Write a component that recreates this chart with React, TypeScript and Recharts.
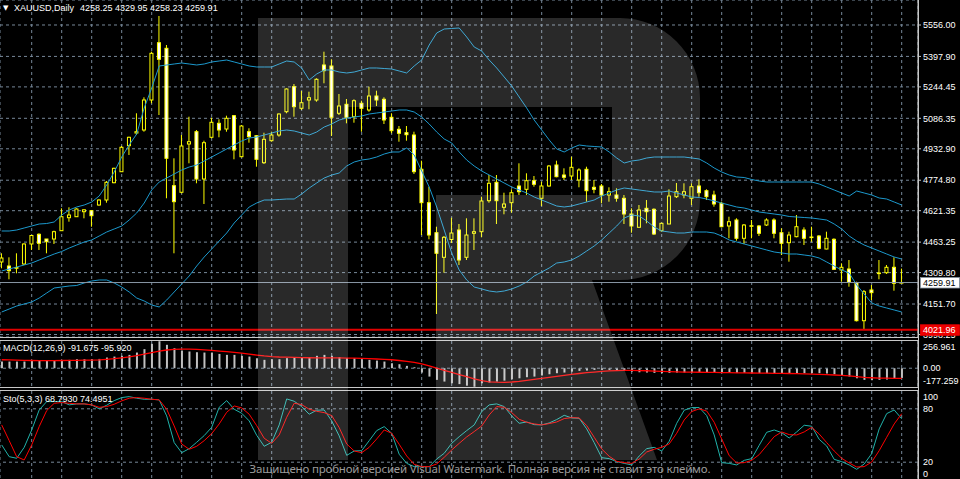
import React from 'react';
import { ComposedChart, Bar, Line, XAxis, YAxis, CartesianGrid, ReferenceLine } from 'recharts';

// ---------------- data ----------------
const opens = [4363.2,4343.0,4331.4,4353.1,4453.8,4502.6,4478.9,4478.9,4520.7,4586.1,4591.1,4616.3,4621.3,4650.0,4675.2,4762.3,4817.6,4948.5,5012.4,5027.5,5178.5,5466.9,5438.7,4747.2,4714.0,4957.0,5019.0,4780.9,4990.8,5061.2,5032.5,5099.5,4893.1,5019.0,4998.8,4862.9,4973.7,5002.3,5119.6,5245.4,5136.7,5178.5,5178.5,5354.7,5349.6,5111.6,5156.9,5094.5,5161.9,5128.2,5198.6,5182.0,5091.4,5031.0,5013.9,5002.3,4829.7,4661.6,4510.6,4386.8,4476.4,4524.2,4386.8,4507.6,4515.7,4671.7,4764.3,4638.5,4661.6,4745.7,4729.0,4772.3,4683.8,4745.7,4851.4,4801.0,4796.0,4775.9,4829.7,4739.1,4745.7,4700.4,4700.4,4683.8,4604.8,4537.8,4633.4,4628.4,4520.7,4554.4,4691.8,4700.4,4683.8,4745.7,4722.0,4700.4,4658.6,4544.4,4574.5,4482.4,4542.8,4544.4,4549.4,4574.5,4510.6,4460.3,4490.5,4524.2,4486.5,4494.0,4428.6,4477.4,4322.9,4327.9,4259.0,4067.7,4222.3,4306.3,4309.3,4336.5,4258.25];
const highs = [4406.9,4386.8,4406.9,4457.3,4499.0,4507.6,4478.9,4520.7,4633.4,4638.5,4633.4,4628.4,4624.9,4678.7,4770.8,4837.7,4947.0,4993.8,5111.6,5192.1,5421.6,5601.3,5455.3,4885.1,5002.3,5094.5,5027.5,4973.7,5089.4,5081.4,5099.5,5103.0,5052.7,5036.1,5002.3,5013.9,5019.0,5111.6,5237.4,5259.0,5223.8,5220.3,5287.7,5421.6,5383.4,5208.7,5183.5,5182.0,5175.0,5245.4,5225.3,5192.1,5111.6,5047.6,5047.6,5019.0,4873.0,4742.1,4540.8,4494.0,4586.1,4554.4,4583.1,4583.1,4691.8,4801.0,4801.0,4711.9,4729.0,4859.9,4809.6,4796.0,4767.3,4851.4,4873.0,4834.7,4893.1,4834.7,4842.8,4775.9,4755.7,4739.1,4734.1,4700.4,4633.4,4650.0,4675.2,4633.4,4560.9,4729.0,4760.8,4759.3,4759.3,4779.4,4729.0,4722.0,4666.7,4591.1,4583.1,4554.4,4574.5,4549.4,4583.1,4583.1,4532.8,4515.7,4599.7,4537.8,4540.8,4499.0,4515.7,4482.4,4356.6,4373.2,4264.0,4222.3,4247.4,4373.2,4348.1,4386.8,4329.95];
const lows = [4331.4,4276.1,4306.3,4348.1,4423.6,4423.6,4406.9,4453.8,4520.7,4566.0,4591.1,4583.1,4540.8,4646.5,4661.6,4759.3,4817.6,4901.7,5002.3,5019.0,5161.9,5103.0,4683.8,4406.9,4708.9,4859.9,4759.3,4655.1,4985.7,4990.8,5019.0,4880.1,4890.1,4963.6,4842.8,4856.4,4968.6,4993.8,5111.6,5094.5,5128.2,5131.7,5169.9,5262.5,4997.3,5103.0,5061.2,5064.2,5019.0,5119.6,5148.3,5057.7,5010.9,4968.6,4973.7,4806.1,4499.0,4477.4,4101.5,4309.3,4458.8,4348.1,4373.2,4423.6,4487.5,4661.6,4554.4,4603.2,4611.3,4700.4,4700.4,4742.1,4645.0,4742.1,4789.5,4775.9,4775.9,4739.1,4666.7,4708.9,4658.6,4666.7,4666.7,4554.4,4510.6,4537.8,4557.9,4499.0,4515.7,4554.4,4685.3,4683.8,4650.0,4691.8,4675.2,4641.5,4537.8,4482.4,4470.4,4453.8,4482.4,4494.0,4544.4,4482.4,4398.4,4364.7,4487.5,4448.7,4465.3,4427.1,4427.1,4322.9,4264.0,4238.8,4064.0,4021.96,4171.9,4276.1,4302.8,4218.7,4258.23];
const closes = [4383.3,4319.4,4335.5,4453.8,4496.5,4457.3,4465.3,4515.7,4591.1,4599.7,4629.9,4625.9,4596.2,4675.2,4764.3,4834.7,4940.5,4990.8,5019.0,5178.5,5413.5,5383.4,4885.1,4666.7,4947.0,4968.6,4780.9,4963.6,5066.3,5027.5,5086.4,4926.9,5047.6,4993.8,4880.1,4980.7,5002.3,5108.0,5233.9,5144.8,5164.9,5190.1,5282.7,5326.0,5091.4,5148.3,5091.4,5175.0,5136.7,5198.6,5178.5,5077.9,5024.0,5010.9,5003.8,4817.6,4661.6,4499.0,4407.0,4487.5,4509.1,4373.2,4499.0,4515.7,4670.2,4759.3,4671.7,4655.1,4711.9,4717.0,4772.3,4754.2,4745.7,4846.3,4792.5,4789.5,4839.8,4826.2,4722.0,4729.0,4700.4,4717.0,4683.8,4604.8,4544.4,4624.9,4616.3,4504.1,4557.9,4695.3,4717.0,4717.0,4742.1,4711.9,4691.8,4655.1,4540.8,4566.0,4482.4,4549.4,4545.8,4507.6,4574.5,4507.6,4457.3,4499.0,4540.8,4482.4,4489.0,4432.1,4482.4,4326.4,4336.5,4261.0,4067.7,4213.7,4208.7,4307.8,4336.5,4255.9,4259.91];

const bbUpper = [4519.2,4519.2,4524.2,4534.3,4544.3,4554.4,4556.9,4564.5,4599.7,4624.9,4640.0,4650.0,4665.1,4695.3,4750.7,4816.1,4891.6,4952.0,5007.4,5138.2,5238.9,5349.6,5354.7,5359.7,5364.7,5359.7,5354.7,5359.7,5369.8,5374.8,5379.8,5369.8,5359.7,5349.6,5344.6,5344.6,5344.6,5359.7,5374.8,5369.8,5339.6,5279.2,5309.4,5329.5,5329.5,5319.4,5314.4,5319.4,5329.5,5339.6,5339.6,5337.0,5334.5,5324.5,5314.4,5349.6,5379.8,5455.3,5515.7,5535.8,5538.4,5540.9,5495.6,5445.3,5425.1,5379.8,5339.6,5294.3,5249.0,5193.6,5138.2,5077.8,5027.5,4977.2,4932.1,4916.8,4936.9,4952.0,4947.0,4944.5,4941.9,4916.8,4886.6,4861.4,4871.5,4876.5,4886.6,4891.6,4891.6,4891.6,4891.6,4891.6,4886.6,4881.6,4861.4,4836.3,4816.1,4801.0,4791.0,4788.4,4778.4,4770.8,4765.8,4765.8,4765.8,4765.8,4765.8,4765.8,4765.8,4755.7,4740.6,4725.5,4710.4,4695.3,4720.5,4710.4,4700.4,4685.3,4680.2,4665.1,4650.0];
const bbMiddle = [4317.9,4328.0,4338.0,4348.1,4358.1,4373.2,4388.3,4403.4,4416.0,4433.6,4448.7,4463.8,4473.9,4494.0,4514.1,4529.3,4544.3,4574.5,4609.8,4660.1,4725.5,4765.8,4785.9,4806.1,4826.2,4841.3,4851.4,4871.5,4891.6,4911.8,4931.9,4952.0,4972.1,4987.2,4992.3,5002.3,5012.4,5022.5,5027.5,5022.5,5012.4,5002.3,5017.4,5042.6,5057.7,5077.8,5087.9,5092.9,5098.0,5108.0,5113.1,5118.1,5123.1,5128.2,5128.2,5118.1,5092.9,5057.7,5017.4,4982.2,4962.1,4916.8,4876.5,4846.3,4821.2,4801.0,4780.9,4760.8,4740.6,4725.5,4710.4,4690.3,4675.2,4660.1,4645.0,4640.0,4645.0,4655.1,4665.1,4675.2,4695.3,4710.4,4725.5,4735.6,4730.6,4725.5,4720.5,4715.5,4715.5,4720.5,4710.4,4700.4,4690.3,4687.8,4680.2,4670.2,4660.1,4650.0,4640.0,4634.9,4624.9,4614.8,4609.8,4604.7,4599.7,4592.2,4589.6,4587.1,4584.6,4579.6,4574.5,4554.4,4529.3,4494.0,4468.9,4448.7,4433.6,4418.5,4403.4,4388.3,4378.3];
const bbLower = [4111.5,4126.6,4141.7,4151.8,4161.8,4181.9,4207.1,4232.3,4237.3,4242.4,4244.9,4257.5,4267.5,4272.6,4272.6,4257.5,4237.3,4212.2,4181.9,4166.9,4146.7,4136.7,4171.9,4212.2,4252.4,4292.7,4343.0,4388.3,4428.6,4468.8,4509.1,4559.4,4599.7,4640.0,4660.1,4675.2,4675.2,4677.7,4680.2,4680.2,4705.4,4735.6,4760.8,4785.9,4801.0,4811.1,4846.3,4866.5,4876.5,4881.6,4891.6,4906.7,4916.8,4916.8,4936.9,4901.7,4821.2,4740.6,4640.0,4524.2,4408.5,4322.9,4272.6,4237.3,4227.3,4217.2,4212.2,4217.2,4227.3,4242.4,4262.5,4292.7,4312.8,4332.9,4358.1,4363.2,4373.2,4393.4,4418.5,4443.7,4473.9,4509.1,4544.3,4584.6,4599.7,4594.7,4569.5,4539.3,4519.2,4514.1,4509.1,4509.1,4514.1,4514.1,4514.1,4509.1,4494.0,4473.9,4463.8,4453.8,4443.7,4433.6,4423.6,4413.5,4408.5,4403.4,4403.4,4398.4,4393.4,4383.3,4363.2,4343.0,4322.9,4307.8,4247.4,4202.1,4156.8,4141.7,4131.6,4121.6,4111.5];

const macdMain = [63,63,63,63,69,69,72,72,72,79,85,85,85,88,101,110,117,126,148,180,230,255,221,189,167,158,151,148,148,135,126,126,117,110,95,79,85,85,95,104,104,104,117,126,117,104,95,95,85,79,72,63,47,38,22,9,-41,-79,-110,-126,-142,-150,-165,-175,-142,-135,-126,-117,-104,-95,-85,-79,-69,-57,-47,-41,-32,-25,-22,-16,-16,-16,-19,-25,-32,-38,-41,-44,-47,-44,-41,-41,-41,-41,-41,-41,-44,-44,-44,-44,-47,-47,-47,-47,-47,-47,-47,-47,-47,-47,-50,-57,-66,-79,-95,-110,-113,-110,-107,-101,-91.675];
const macdSignal = [80,79,77,75,73,72,72,72,73,74,75,76,77,79,84,90,98,107,118,132,148,162,172,178,181,180,177,173,168,162,156,150,142,133,124,116,110,106,104,102,100,99,98,98,98,97,96,95,93,90,87,84,80,73,65,55,41,23,2,-20,-40,-60,-80,-100,-118,-128,-132,-133,-130,-124,-115,-106,-96,-86,-77,-67,-58,-50,-42,-36,-30,-25,-22,-20,-20,-22,-24,-27,-30,-32,-34,-36,-37,-38,-39,-40,-41,-42,-43,-44,-45,-46,-47,-48,-49,-50,-51,-53,-55,-58,-61,-64,-68,-73,-80,-86,-90,-93,-94,-95,-95.92];

const stoMain = [39.4,26.2,24.4,36.7,56.2,78.7,88.1,88.1,88.1,84.4,85.5,85.5,84.4,79.9,84,89.2,92.6,93.7,91.9,90.7,90.7,90,72,42,30.7,35.2,42.4,49.9,59.2,81.7,89.2,79.5,75,66.4,50.2,37.9,42.4,61.9,91.1,88.5,82.5,73.9,78.4,78.7,66.4,49.5,27.7,32.6,33,44.2,55.5,60,52.5,28.9,18.7,15,15,15,23.6,30,41.2,48.7,55.5,61.9,76.9,84.4,85.5,82.5,72,63.7,65.2,62.2,61.9,64.1,67.9,72.7,69.7,69.4,57.4,42,25.1,24,20.6,18.7,16.9,27,35.2,36.7,32.6,43.5,63.7,78.4,81.4,81.4,72.4,50.6,19.5,18.7,16.9,22.1,24,39,53.6,56.2,53.2,47.2,54,61.5,60.4,45.7,38.2,23.2,20.6,16.9,12,18,29.6,57.4,74.6,78.7,68.793];
const stoSignal = [61.9,44.2,26.2,22.5,39.4,60,78,86.2,87,86.2,85.5,85.5,84.4,81.7,82.5,85.1,88.9,91.9,92.6,91.9,90.7,90,79.5,60.7,40.5,34.5,37.9,44.2,52.1,63,76.1,83.2,81,73.9,61.1,46.9,41.2,50.6,70.5,86.2,84.7,79.5,77.2,75.7,72.4,58.9,40.5,32.6,30.7,36.7,46.1,56.2,52.5,40.1,27,17.6,15,15,18,25.5,33.7,41.2,48.4,54.4,60.7,73.1,82.5,81.7,75.7,68.2,64.9,63,61.9,63.4,65.2,69,70.1,69.7,61.1,48,34.9,26.6,21,19.5,18.7,23.6,31.5,34.5,36.7,40.5,52.5,67.5,76.9,79.9,77.5,64.9,46.1,27.4,19.1,19.5,22.1,28.5,38.6,48.7,54,51,50.6,54,59.2,51.7,42,32.6,24.4,19.1,14.6,15,20.2,33,48,63,74.4951];

const priceTicks = [5556.0, 5397.9, 5244.45, 5086.35, 4932.9, 4774.8, 4621.35, 4463.25, 4309.8, 4151.7, 3998.25];
const macdTicks = [256.961, 0, -177.259];
const stoTicks = [100, 80, 20, 0];

const symbolTitle = 'XAUUSD,Daily';
const macdTitle = 'MACD(12,26,9)';
const stoTitle = 'Sto(5,3,3)';
const watermarkText = 'Защищено пробной версией Visual Watermark. Полная версия не ставит это клеймо.';

// ---------------- derived table ----------------
const barNumbers = opens.map((_, i) => i);
const gridBars = barNumbers.filter((i) => i % 4 === 0);
const rows = barNumbers.map((i) => ({
  i,
  open: opens[i], high: highs[i], low: lows[i], close: closes[i],
  upper: bbUpper[i], mid: bbMiddle[i], lower: bbLower[i],
  macd: macdMain[i], signal: macdSignal[i],
  k: stoMain[i], d: stoSignal[i],
}));
const last = barNumbers.length - 1;
const lastClose = closes[last];
const lowestLow = Math.min(...lows);

// ---------------- style ----------------
const FONT = '"Liberation Sans", Arial, sans-serif';
const GRID = '#778899';
const AXIS = '#c8c8c8';
const TXT = '#ffffff';
const X_DOMAIN: [number, number] = [-0.2267, 122.1733];
const PRICE_DOMAIN: [number, number] = [3985.7, 5681.8];
const BB = '#1c98cc';

const Candle = (props: any) => {
  const { x, y, width, height, payload } = props;
  if (!payload || x == null || y == null) return null;
  const { open, close, high, low } = payload;
  const cx = x + width / 2;
  const k = high - low > 0 ? height / (high - low) : 0;
  const yO = y + (high - open) * k;
  const yC = y + (high - close) * k;
  const top = Math.min(yO, yC);
  const bot = Math.max(yO, yC);
  const bull = close >= open;
  return (
    <g>
      <line x1={cx} x2={cx} y1={y} y2={y + height} stroke="#ffff00" strokeWidth={1} />
      <rect x={cx - 1.5} y={top} width={3} height={Math.max(bot - top, 0.6)} fill={bull ? '#000000' : '#ffffff'} stroke="#ffff00" strokeWidth={1} />
    </g>
  );
};

const PriceTag = (props: any) => {
  const { viewBox, tagText, bg, fg, border } = props;
  if (!viewBox) return null;
  const x = viewBox.x + viewBox.width + 2.5;
  const y = viewBox.y;
  return (
    <g>
      <rect x={x} y={y - 5} width={39} height={10.5} fill={bg} stroke={border} strokeWidth={0.8} />
      <text x={x + 2.5} y={y + 3.6} fill={fg} fontSize={9} fontFamily={FONT}>{tagText}</text>
    </g>
  );
};

const SideTick = (props: any) => {
  const { x, y, payload, fmt, topVal, botVal } = props;
  const v = payload.value;
  let dy = 3.2;
  if (v === topVal) dy += 6;
  if (v === botVal) dy -= 6;
  return (
    <text x={x} y={y + dy} fill={TXT} fontSize={9} fontFamily={FONT} textAnchor="start">{fmt(v)}</text>
  );
};

function MainChart() {
  return (
    <ComposedChart width={960} height={346} data={rows} margin={{ top: 0, right: 0, bottom: 9, left: 0 }}>
      <CartesianGrid stroke={GRID} strokeDasharray="3 3" />
      <XAxis type="number" dataKey="i" domain={X_DOMAIN} ticks={gridBars} hide allowDataOverflow />
      <YAxis orientation="right" width={42} domain={PRICE_DOMAIN} ticks={priceTicks} allowDataOverflow interval={0}
        axisLine={{ stroke: AXIS }} tickLine={{ stroke: AXIS }} tickSize={3} tickMargin={2}
        tick={{ fill: TXT, fontSize: 9, fontFamily: FONT }} tickFormatter={(v: number) => v.toFixed(2)} />
      <Bar dataKey={(d: any) => [d.low, d.high]} barSize={3} shape={<Candle />} isAnimationActive={false} />
      <Line dataKey="upper" stroke={BB} strokeWidth={1} dot={false} activeDot={false} isAnimationActive={false} />
      <Line dataKey="mid" stroke={BB} strokeWidth={1} dot={false} activeDot={false} isAnimationActive={false} />
      <Line dataKey="lower" stroke={BB} strokeWidth={1} dot={false} activeDot={false} isAnimationActive={false} />
      <ReferenceLine y={lastClose} stroke="#8896a4" strokeWidth={1} />
      <ReferenceLine y={lowestLow} stroke="#e00000" strokeWidth={2} />
    </ComposedChart>
  );
}

// price tags drawn in a layer above the price axis labels, on the same scale
function TagLayer() {
  return (
    <ComposedChart width={960} height={346} data={rows} margin={{ top: 0, right: 0, bottom: 9, left: 0 }}>
      <XAxis type="number" dataKey="i" domain={X_DOMAIN} hide allowDataOverflow />
      <YAxis orientation="right" width={42} domain={PRICE_DOMAIN} allowDataOverflow tick={false} axisLine={false} tickLine={false} />
      <ReferenceLine y={lastClose} stroke="none"
        label={<PriceTag tagText={lastClose.toFixed(2)} bg="#ffffff" fg="#000000" border="#8896a4" />} />
      <ReferenceLine y={lowestLow} stroke="none"
        label={<PriceTag tagText={lowestLow.toFixed(2)} bg="#ee0000" fg="#ffffff" border="#ee0000" />} />
    </ComposedChart>
  );
}

function MacdChart() {
  return (
    <ComposedChart width={960} height={46} data={rows} margin={{ top: 0, right: 0, bottom: 0, left: 0 }}>
      <CartesianGrid stroke={GRID} strokeDasharray="3 3" horizontal={false} />
      <XAxis type="number" dataKey="i" domain={X_DOMAIN} ticks={gridBars} hide allowDataOverflow />
      <YAxis orientation="right" width={42} domain={[-177.259, 256.961]} ticks={macdTicks} allowDataOverflow interval={0}
        axisLine={{ stroke: AXIS }} tickLine={false} tickSize={3} tickMargin={2}
        tick={<SideTick fmt={(v: number) => (v === 0 ? '0.00' : v.toFixed(3))} topVal={256.961} botVal={-177.259} />} />
      <ReferenceLine y={0} stroke={GRID} strokeDasharray="3 3" />
      <Bar dataKey="macd" barSize={2} fill="#c0c0c0" isAnimationActive={false} />
      <Line dataKey="signal" stroke="#ff0000" strokeWidth={1.3} dot={false} activeDot={false} isAnimationActive={false} />
    </ComposedChart>
  );
}

function StoChart() {
  return (
    <ComposedChart width={960} height={89} data={rows} margin={{ top: 0, right: 0, bottom: 0, left: 0 }}>
      <CartesianGrid stroke={GRID} strokeDasharray="3 3" horizontal={false} />
      <XAxis type="number" dataKey="i" domain={X_DOMAIN} ticks={gridBars} hide allowDataOverflow />
      <YAxis orientation="right" width={42} domain={[0, 100]} ticks={stoTicks} allowDataOverflow interval={0}
        axisLine={{ stroke: AXIS }} tickLine={false} tickSize={3} tickMargin={2}
        tick={<SideTick fmt={(v: number) => String(v)} topVal={100} botVal={0} />} />
      <ReferenceLine y={80} stroke={GRID} strokeDasharray="3 3" />
      <ReferenceLine y={20} stroke={GRID} strokeDasharray="3 3" />
      <Line dataKey="k" stroke="#20b2aa" strokeWidth={1} dot={false} activeDot={false} isAnimationActive={false} />
      <Line dataKey="d" stroke="#ff0000" strokeWidth={1} dot={false} activeDot={false} isAnimationActive={false} />
    </ComposedChart>
  );
}

export default function App() {
  const ohlcText = [opens[last], highs[last], lows[last], closes[last]].map((v) => v.toFixed(2)).join(' ');
  const macdText = `${macdMain[last].toFixed(3)} ${macdSignal[last].toFixed(3)}`;
  const stoText = `${stoMain[last].toFixed(4)} ${stoSignal[last].toFixed(4)}`;
  return (
    <div style={{ position: 'absolute', left: 0, top: 0, width: 960, height: 479, background: '#000', overflow: 'hidden' }}>
      <div style={{ position: 'absolute', left: 0, top: 0 }}><MainChart /></div>
      <div style={{ position: 'absolute', left: 0, top: 341 }}><MacdChart /></div>
      <div style={{ position: 'absolute', left: 0, top: 391 }}><StoChart /></div>
      <div style={{ position: 'absolute', left: 0, top: 0 }}><TagLayer /></div>
      <svg width={960} height={479} style={{ position: 'absolute', left: 0, top: 0, pointerEvents: 'none' }}>
        {/* panel frames */}
        <line x1={0} x2={918.5} y1={337.5} y2={337.5} stroke={AXIS} />
        <line x1={0} x2={918.5} y1={340.5} y2={340.5} stroke={AXIS} />
        <line x1={0} x2={918.5} y1={387.5} y2={387.5} stroke={AXIS} />
        <line x1={0} x2={918.5} y1={390.5} y2={390.5} stroke={AXIS} />
        <line x1={918.5} x2={918.5} y1={0} y2={479} stroke={AXIS} />
        {/* watermark logo */}
        <path d="M258,18 H620 A80,80 0 0 1 700,98 V200 A80,80 0 0 1 620,280 H592 L657,460 H436 V195 H612 V107 H348 V460 H258 Z"
          fill="#ffffff" fillOpacity={0.16} />
        <text x={480} y={473} textAnchor="middle" fill="#9a9a9a" fontSize={11.5} fontFamily='"Noto Sans", "DejaVu Sans", sans-serif'
          textLength={461} lengthAdjust="spacing">{watermarkText}</text>
        {/* titles */}
        <text x={3} y={10} fill={TXT} fontSize={7} fontFamily='"DejaVu Sans", sans-serif'>▼</text>
        <text x={14} y={10.5} fill={TXT} fontSize={9} fontFamily={FONT}>{symbolTitle}</text>
        <text x={80} y={10.5} fill={TXT} fontSize={9} fontFamily={FONT}>{ohlcText}</text>
        <text x={3} y={351} fill={TXT} fontSize={9} fontFamily={FONT}>{`${macdTitle} ${macdText}`}</text>
        <text x={3} y={401.5} fill={TXT} fontSize={9} fontFamily={FONT}>{`${stoTitle} ${stoText}`}</text>
      </svg>
    </div>
  );
}
